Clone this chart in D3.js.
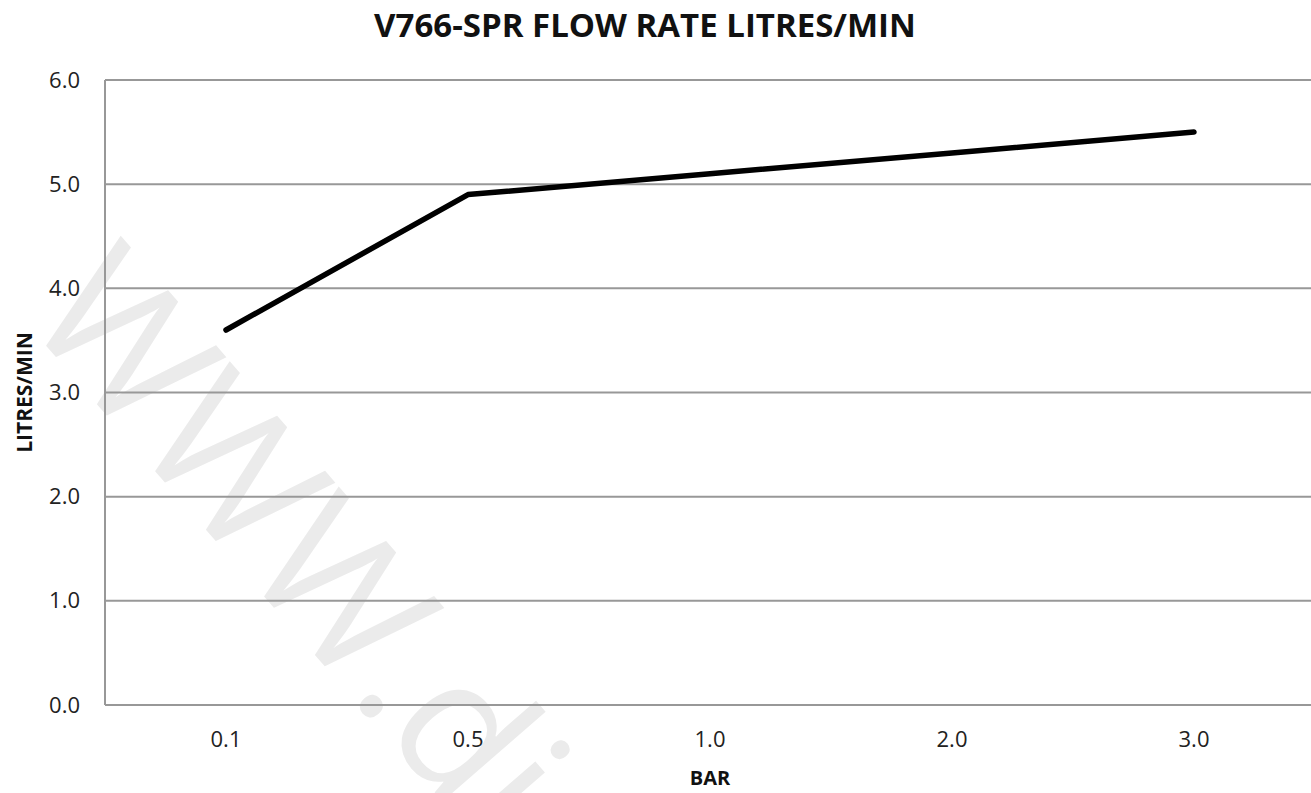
<!DOCTYPE html>
<html lang="en">
  <head>
    <meta charset="UTF-8" />
    <title>V766-SPR Flow Rate</title>
    <script src="https://d3js.org/d3.v7.min.js"></script>
    <style>
      html,
      body {
        margin: 0;
        padding: 0;
        background: #ffffff;
      }
      text {
        font-family: "Open Sans", "DejaVu Sans", sans-serif;
      }
    </style>
  </head>
  <body>
    <div id="viz"></div>
    <script>
      // data
      const pressures = ["0.1", "0.5", "1.0", "2.0", "3.0"];
      const flowRates = [3.6, 4.9, 5.1, 5.3, 5.5];
      const yTicks = [0, 1, 2, 3, 4, 5, 6];

      const width = 1311;
      const height = 793;
      const margin = { top: 80, right: -4, bottom: 88, left: 105 };

      const svg = d3
        .select("#viz")
        .append("svg")
        .attr("width", width)
        .attr("height", height);

      // faint watermark behind the plot
      svg
        .append("text")
        .attr("transform", "translate(22,318) rotate(49)")
        .attr("font-size", 180)
        .attr("fill", "#ebebeb")
        .text("WWW.di");

      const xScale = d3
        .scaleBand()
        .domain(pressures)
        .range([margin.left, width - margin.right]);

      const yScale = d3
        .scaleLinear()
        .domain([0, 6])
        .range([height - margin.bottom, margin.top]);

      // gridlines
      svg
        .append("g")
        .selectAll("line")
        .data(yTicks)
        .join("line")
        .attr("x1", margin.left)
        .attr("x2", width)
        .attr("y1", (d) => yScale(d))
        .attr("y2", (d) => yScale(d))
        .attr("stroke", "#989898")
        .attr("stroke-width", 2);

      // y axis line
      svg
        .append("line")
        .attr("x1", margin.left)
        .attr("x2", margin.left)
        .attr("y1", yScale(6))
        .attr("y2", yScale(0))
        .attr("stroke", "#989898")
        .attr("stroke-width", 2);

      // y tick labels
      const yAxis = d3
        .axisLeft(yScale)
        .tickValues(yTicks)
        .tickFormat(d3.format(".1f"))
        .tickSize(0)
        .tickPadding(25);
      svg
        .append("g")
        .attr("transform", `translate(${margin.left},0)`)
        .call(yAxis)
        .call((g) => g.select(".domain").remove())
        .selectAll("text")
        .attr("fill", "#222")
        .style("font-size", "22px")
        .style("font-family", "'Open Sans', sans-serif");

      // x tick labels
      const xAxis = d3.axisBottom(xScale).tickSize(0).tickPadding(26);
      svg
        .append("g")
        .attr("transform", `translate(0,${yScale(0)})`)
        .call(xAxis)
        .call((g) => g.select(".domain").remove())
        .selectAll("text")
        .attr("fill", "#222")
        .style("font-size", "22px")
        .style("font-family", "'Open Sans', sans-serif");

      // the line
      const line = d3
        .line()
        .x((d, i) => xScale(pressures[i]) + xScale.bandwidth() / 2)
        .y((d) => yScale(d));

      svg
        .append("path")
        .datum(flowRates)
        .attr("d", line)
        .attr("fill", "none")
        .attr("stroke", "#000")
        .attr("stroke-width", 5.5)
        .attr("stroke-linejoin", "round")
        .attr("stroke-linecap", "round");

      // title
      svg
        .append("text")
        .attr("x", 645)
        .attr("y", 37)
        .attr("text-anchor", "middle")
        .attr("font-size", 33)
        .attr("font-weight", "bold")
        .attr("fill", "#111")
        .text("V766-SPR FLOW RATE LITRES/MIN");

      // axis titles
      svg
        .append("text")
        .attr("transform", `translate(32,${(yScale(0) + yScale(6)) / 2}) rotate(-90)`)
        .attr("text-anchor", "middle")
        .attr("font-size", 21)
        .attr("font-weight", "bold")
        .attr("fill", "#111")
        .text("LITRES/MIN");

      svg
        .append("text")
        .attr("x", xScale("1.0") + xScale.bandwidth() / 2)
        .attr("y", 785)
        .attr("text-anchor", "middle")
        .attr("font-size", 20)
        .attr("font-weight", "bold")
        .attr("fill", "#111")
        .text("BAR");
    </script>
  </body>
</html>
